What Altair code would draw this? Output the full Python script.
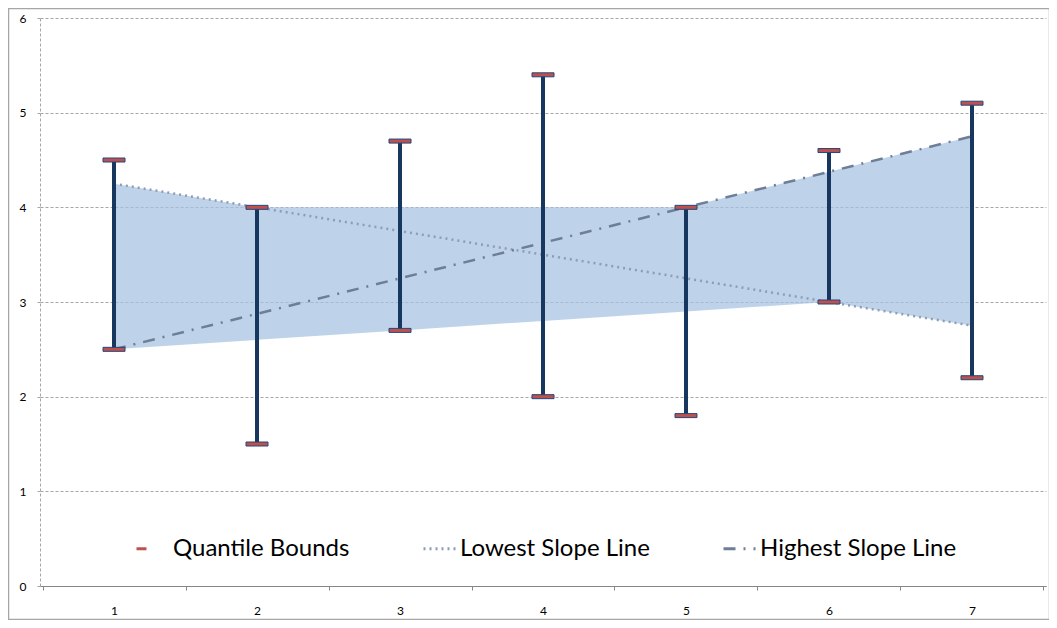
import altair as alt
import pandas as pd

categories = [1, 2, 3, 4, 5, 6, 7]
q_low = [2.5, 1.5, 2.7, 2.0, 1.8, 3.0, 2.2]
q_high = [4.5, 4.0, 4.7, 5.4, 4.0, 4.6, 5.1]
band_upper = [4.25, 4.0, 4.0, 4.0, 4.0, 4.375, 4.75]
band_lower = [2.5, 2.6, 2.7, 2.8, 2.9, 3.0, 2.75]
lowest_slope = [4.25, 4.0, 3.75, 3.5, 3.25, 3.0, 2.75]
highest_slope = [2.5, 2.875, 3.25, 3.625, 4.0, 4.375, 4.75]
series_names = ["Quantile Bounds", "Lowest Slope Line", "Highest Slope Line"]
series_colors = ["#C0504D", "#8D9DB5", "#6E7E97"]
series_dashes = [[10, 100], [2, 4], [12, 8, 2, 8]]
y_ticks = [0, 1, 2, 3, 4, 5, 6]
x_tick_bounds = [0.5, 1.5, 2.5, 3.5, 4.5, 5.5, 6.5, 7.5]

FONT = "Lato"
W, H = 1006, 568
X_DOMAIN = [0.4825, 7.5175]
BAND = W / (X_DOMAIN[1] - X_DOMAIN[0])

df = pd.DataFrame({
    "x": categories, "low": q_low, "high": q_high,
    "upper": band_upper, "lower": band_lower,
    "series": ["Quantile Bounds"] * len(categories),
})
lines_df = pd.DataFrame({
    "x": categories * 2,
    "y": lowest_slope + highest_slope,
    "series": ["Lowest Slope Line"] * 7 + ["Highest Slope Line"] * 7,
})
border_df = pd.DataFrame({"k": [0]})

xaxis = alt.Axis(values=x_tick_bounds,
                 labelExpr="datum.value < 7 ? format(datum.value + 0.5, 'd') : ''",
                 labelOffset=BAND / 2, labelFlush=False, tickSize=4, grid=False,
                 domainColor="#868686", tickColor="#868686", labelFontSize=12,
                 labelColor="black", labelPadding=15, labelFont=FONT, title=None)
xscale = alt.Scale(domain=X_DOMAIN, nice=False, zero=False)
yaxis = alt.Axis(values=y_ticks, grid=True, gridDash=[3, 2], gridColor="#A6A6A6",
                 domainDash=[3, 2], domainColor="#A6A6A6", tickDash=[3, 2],
                 tickColor="#A6A6A6", tickSize=4, labelFontSize=12, labelPadding=10,
                 labelColor="black", labelFont=FONT, format="d", title=None)
yscale = alt.Scale(domain=[0, 6], nice=False, zero=False)

X = alt.X("x:Q", scale=xscale, axis=xaxis)
color = alt.Color("series:N", scale=alt.Scale(domain=series_names, range=series_colors), title=None)
dash = alt.StrokeDash("series:N", scale=alt.Scale(domain=series_names, range=series_dashes), title=None)

border = alt.Chart(border_df).mark_rect(filled=False, stroke="#A6A6A6", strokeWidth=1.5).encode(
    x=alt.value(-31.5), x2=alt.value(1009.5), y=alt.value(-9.5), y2=alt.value(601.5))

area = alt.Chart(df).mark_area(color="#A5C0E2", opacity=0.72).encode(
    x=X, y=alt.Y("upper:Q", scale=yscale, axis=yaxis), y2="lower:Q")

lines = alt.Chart(lines_df).mark_line(strokeWidth=2.5).encode(
    x=X, y=alt.Y("y:Q", scale=yscale, axis=yaxis), color=color, strokeDash=dash)

rules = alt.Chart(df).mark_rule(color="#17375E", strokeWidth=4).encode(
    x=X, y=alt.Y("low:Q", scale=yscale, axis=yaxis), y2="high:Q")

cap_low = alt.Chart(df).mark_tick(orient="horizontal", size=22, thickness=4, filled=True,
                                  stroke="#1F497D", strokeWidth=1, opacity=1).encode(
    x=X, y=alt.Y("low:Q", scale=yscale, axis=yaxis), color=color)
cap_high = alt.Chart(df).mark_tick(orient="horizontal", size=22, thickness=4, filled=True,
                                   stroke="#1F497D", strokeWidth=1, opacity=1).encode(
    x=X, y=alt.Y("high:Q", scale=yscale, axis=yaxis), color=color)

chart = alt.layer(border, area, lines, rules, cap_low, cap_high).properties(
    width=W, height=H,
    padding={"left": 32, "top": 10, "right": 3, "bottom": 34},
    autosize=alt.AutoSizeParams(type="none"),
).configure_view(strokeWidth=0).configure_legend(
    orient="none", legendX=95, legendY=513, direction="horizontal", columns=3,
    symbolType="stroke", symbolSize=1024, symbolStrokeWidth=3, symbolOpacity=1,
    labelFontSize=24, labelFont=FONT, labelColor="black", labelLimit=400,
    labelOffset=3, columnPadding=67,
)

chart.save("out.html", embed_options={"renderer": "svg", "actions": False})
